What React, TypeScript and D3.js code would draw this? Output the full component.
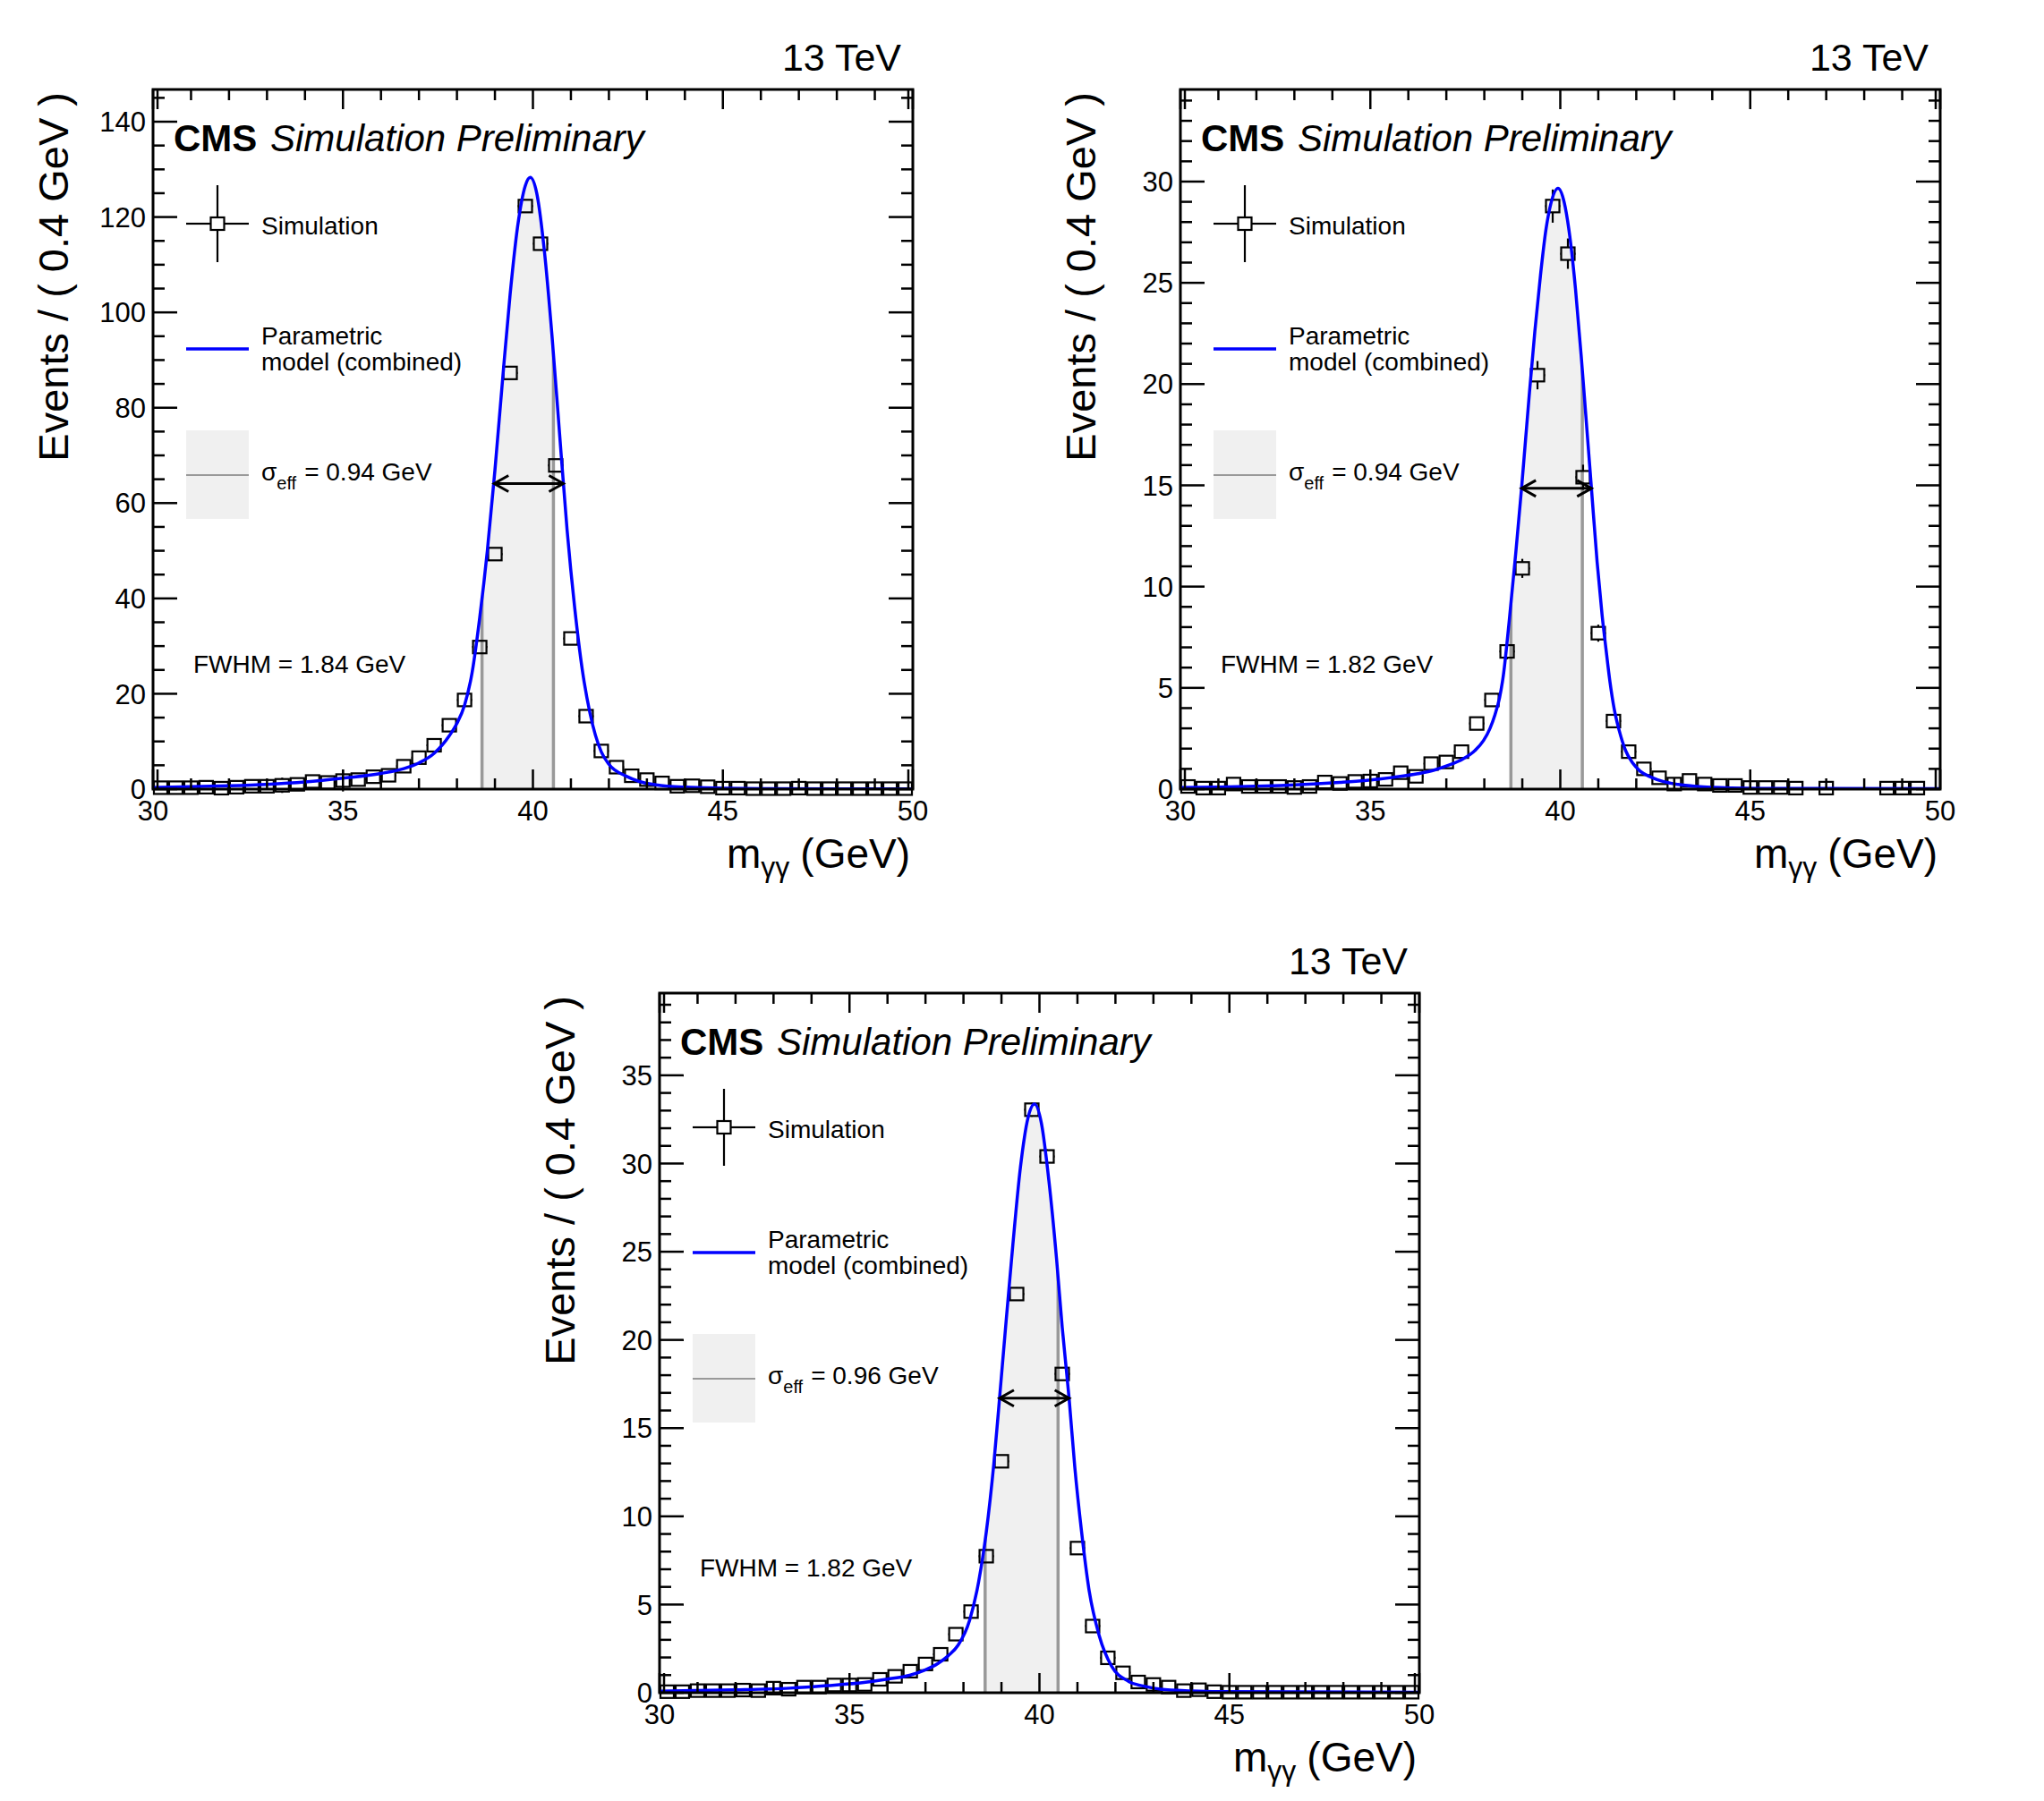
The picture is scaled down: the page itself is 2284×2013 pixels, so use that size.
import * as d3 from 'd3'
import { useEffect } from 'react'

const WIDTH = 2284
const HEIGHT = 2013
const FRAME_W = 849
const FRAME_H = 782
const FONT = '"Liberation Sans", Arial, Helvetica, sans-serif'

type Pt = [number, number]

// bin centres of the 0.4 GeV bins
const binCenters = [
  30.2, 30.6, 31.0, 31.4, 31.8, 32.2, 32.6, 33.0, 33.4, 33.8,
  34.2, 34.6, 35.0, 35.4, 35.8, 36.2, 36.6, 37.0, 37.4, 37.8,
  38.2, 38.6, 39.0, 39.4, 39.8, 40.2, 40.6, 41.0, 41.4, 41.8,
  42.2, 42.6, 43.0, 43.4, 43.8, 44.2, 44.6, 45.0, 45.4, 45.8,
  46.2, 46.6, 47.0, 47.4, 47.8, 48.2, 48.6, 49.0, 49.4, 49.8,
]
const xTickLabels = [30, 35, 40, 45, 50]

/* top left */
const tlEvents = [
  0.3, 0.3, 0.3, 0.4, 0.2, 0.4, 0.6, 0.6, 0.8, 1.0,
  1.6, 1.4, 1.8, 2.0, 2.6, 2.9, 4.8, 6.6, 9.2, 13.4,
  18.7, 29.8, 49.3, 87.3, 122.3, 114.4, 67.9, 31.6, 15.3, 8.0,
  4.6, 2.8, 2.0, 1.3, 0.6, 0.7, 0.5, 0.2, 0.2, 0.1,
  0.1, 0.1, 0.2, 0.1, 0.1, 0.1, 0.1, 0.1, 0.1, 0.1,
]
const tlErrors = [
  0.4, 0.4, 0.4, 0.5, 0.3, 0.5, 0.6, 0.6, 1.6, 0.8,
  1.0, 0.9, 2.3, 1.0, 1.1, 1.0, 1.1, 1.2, 1.2, 1.2,
  1.2, 1.2, 1.2, 1.2, 1.2, 1.2, 1.2, 1.2, 1.1, 1.0,
  0.9, 0.8, 0.7, 0.6, 0.4, 0.4, 0.4, 0.3, 0.3, 0.2,
  0.2, 0.2, 0.3, 0.2, 0.2, 0.2, 0.2, 0.2, 0.2, 0.2,
]
const tlCurve: Pt[] = [
  [30.0, 0.35], [31.0, 0.5], [32.0, 0.7], [33.0, 1.0], [34.0, 1.5], [35.0, 2.3],
  [36.0, 3.3], [36.6, 4.3], [37.0, 5.5], [37.4, 7.5], [37.8, 11.2], [38.0, 13.8],
  [38.2, 17.6], [38.4, 24.5], [38.6, 36], [38.8, 50], [39.0, 66.9], [39.2, 85.8],
  [39.4, 103.8], [39.6, 118.2], [39.8, 126.6], [39.93, 128.3], [40.1, 125], [40.3, 113],
  [40.5, 95.3], [40.7, 74.7], [40.9, 54.3], [41.1, 38], [41.3, 25], [41.5, 16],
  [41.8, 7.8], [42.0, 5.2], [42.46, 2.7], [42.8, 1.6], [43.24, 0.9], [44.0, 0.4],
  [45.0, 0.2], [46.0, 0.1], [48.0, 0.06], [50.0, 0.05],
]
const tlYTicks = [0, 20, 40, 60, 80, 100, 120, 140]
const tlSigma = [38.66, 40.54]
const tlFwhm = [38.98, 40.8, 64.1]

/* top right */
const trEvents = [
  0.13, 0.05, 0.05, 0.25, 0.13, 0.13, 0.13, 0.08, 0.13, 0.35,
  0.28, 0.38, 0.4, 0.48, 0.81, 0.63, 1.26, 1.34, 1.85, 3.24,
  4.4, 6.8, 10.9, 20.44, 28.79, 26.44, 15.4, 7.7, 3.36, 1.85,
  1.0, 0.56, 0.25, 0.43, 0.25, 0.18, 0.18, 0.08, 0.08, 0.08,
  0.05, null, 0.05, null, null, null, 0.05, 0.05, 0.05, null,
]
const trErrors = [
  0.05, 0.03, 0.03, 0.08, 0.05, 0.05, 0.05, 0.04, 0.05, 0.09,
  0.08, 0.09, 0.1, 0.11, 0.14, 0.12, 0.17, 0.18, 0.21, 0.27,
  0.31, 0.39, 0.47, 0.7, 0.82, 0.75, 0.62, 0.42, 0.27, 0.21,
  0.15, 0.11, 0.08, 0.1, 0.08, 0.06, 0.06, 0.04, 0.04, 0.04,
  0.03, null, 0.03, null, null, null, 0.03, 0.03, 0.03, null,
]
const trCurve: Pt[] = [
  [30.0, 0.08], [31.0, 0.1], [32.0, 0.14], [32.65, 0.18], [33.5, 0.25], [34.2, 0.33],
  [34.9, 0.43], [35.6, 0.58], [36.25, 0.76], [36.7, 0.95], [37.0, 1.14], [37.45, 1.5],
  [37.75, 1.9], [37.98, 2.4], [38.15, 3.0], [38.28, 3.67], [38.4, 4.5], [38.5, 5.6],
  [38.65, 8.2], [38.83, 11.7], [38.98, 14.85], [39.18, 19.4], [39.33, 22.6], [39.48, 25.4],
  [39.62, 27.6], [39.75, 28.9], [39.94, 29.67], [40.1, 29.0], [40.25, 27.3], [40.4, 24.7],
  [40.55, 21.4], [40.67, 18.5], [40.82, 14.85], [40.97, 11.2], [41.1, 8.6], [41.2, 6.96],
  [41.3, 5.4], [41.42, 3.95], [41.55, 2.9], [41.72, 1.9], [41.9, 1.3], [42.1, 0.89],
  [42.4, 0.58], [42.7, 0.38], [43.1, 0.23], [43.6, 0.13], [44.5, 0.06], [46.0, 0.03],
  [50.0, 0.02],
]
const trYTicks = [0, 5, 10, 15, 20, 25, 30]
const trSigma = [38.7, 40.58]
const trFwhm = [38.98, 40.82, 14.85]

/* bottom */
const btEvents = [
  0.06, 0.06, 0.12, 0.12, 0.12, 0.15, 0.12, 0.26, 0.2, 0.32,
  0.32, 0.44, 0.44, 0.47, 0.76, 0.93, 1.22, 1.63, 2.18, 3.32,
  4.6, 7.74, 13.12, 22.6, 33.05, 30.4, 18.07, 8.2, 3.78, 1.98,
  1.13, 0.61, 0.47, 0.32, 0.12, 0.17, 0.06, 0.03, 0.03, 0.03,
  0.03, 0.03, 0.03, 0.03, 0.03, 0.03, 0.03, 0.03, 0.03, 0.03,
]
const btErrors = [
  0.03, 0.03, 0.04, 0.04, 0.04, 0.05, 0.04, 0.06, 0.05, 0.07,
  0.07, 0.08, 0.08, 0.08, 0.1, 0.11, 0.13, 0.15, 0.17, 0.2,
  0.24, 0.3, 0.35, 0.38, 0.4, 0.4, 0.36, 0.3, 0.2, 0.15,
  0.11, 0.08, 0.07, 0.06, 0.04, 0.05, 0.03, 0.02, 0.02, 0.02,
  0.02, 0.02, 0.02, 0.02, 0.02, 0.02, 0.02, 0.02, 0.02, 0.02,
]
const btCurve: Pt[] = [
  [30.0, 0.09], [32.0, 0.16], [33.43, 0.26], [34.4, 0.4], [35.38, 0.58], [36.0, 0.77],
  [36.58, 0.99], [37.0, 1.3], [37.33, 1.66], [37.6, 2.1], [37.86, 2.7], [38.16, 4.1],
  [38.4, 6.3], [38.6, 9.1], [38.8, 13.0], [38.95, 16.7], [39.1, 20.5], [39.3, 25.4],
  [39.5, 29.8], [39.7, 32.6], [39.87, 33.37], [40.05, 32.3], [40.25, 29.0], [40.45, 24.6],
  [40.6, 20.7], [40.78, 16.7], [40.93, 12.8], [41.11, 9.1], [41.3, 5.9], [41.57, 3.26],
  [41.9, 1.5], [42.35, 0.64], [42.8, 0.35], [43.18, 0.2], [44.0, 0.1], [44.68, 0.06],
  [50.0, 0.03],
]
const btYTicks = [0, 5, 10, 15, 20, 25, 30, 35]
const btSigma = [38.57, 40.49]
const btFwhm = [38.95, 40.78, 16.7]

interface PanelProps {
  id: string
  left: number
  top: number
  events: (number | null)[]
  errors: (number | null)[]
  curve: Pt[]
  yTicks: number[]
  yMinorStep: number
  sigma: number[]
  fwhm: number[]
  sigmaLabel: string
  fwhmLabel: string
}

/* open square marker with error bars that stop at the box */
const Marker = ({ cx, cy, x0, x1, yTop, yBot }: { cx: number, cy: number, x0: number, x1: number, yTop: number, yBot: number }) => {
  const hw = 7.5, hh = 7
  return (
    <g stroke="black" strokeWidth={2.2} fill="none">
      {x0 < cx - hw && <line x1={x0} x2={cx - hw} y1={cy} y2={cy} />}
      {x1 > cx + hw && <line x1={cx + hw} x2={x1} y1={cy} y2={cy} />}
      {yTop < cy - hh && <line x1={cx} x2={cx} y1={yTop} y2={cy - hh} />}
      {yBot > cy + hh && <line x1={cx} x2={cx} y1={cy + hh} y2={yBot} />}
      <rect x={cx - hw} y={cy - hh} width={2 * hw} height={2 * hh} />
    </g>
  )
}

const Panel = ({ id, left, top, events, errors, curve, yTicks, yMinorStep, sigma, fwhm, sigmaLabel, fwhmLabel }: PanelProps) => {
  const yMax = 1.2 * (d3.max(events, d => d ?? 0) as number)
  const x = d3.scaleLinear().domain([30, 50]).range([0, FRAME_W])
  const y = d3.scaleLinear().domain([0, yMax]).range([FRAME_H, 0])

  const line = d3.line<Pt>().x(d => x(d[0])).y(d => y(d[1])).curve(d3.curveMonotoneX)
  const area = d3.area<Pt>().x(d => x(d[0])).y0(y(0)).y1(d => y(d[1])).curve(d3.curveMonotoneX)

  const xMinor = d3.range(31, 50).filter(v => v % 5 !== 0)
  const yMinor = d3.range(0, yMax, yMinorStep).filter(v => !yTicks.includes(v))

  const tickStyle = { stroke: 'black', strokeWidth: 2.5 }
  const arrowY = y(fwhm[2])
  const ax0 = x(fwhm[0]), ax1 = x(fwhm[1])

  return (
    <g transform={`translate(${left},${top})`} fontFamily={FONT}>
      <defs>
        <clipPath id={`frame-${id}`}>
          <rect x={0} y={0} width={FRAME_W} height={FRAME_H} />
        </clipPath>
        <clipPath id={`under-${id}`}>
          <path d={area(curve) as string} />
        </clipPath>
      </defs>

      {/* sigma_eff band under the curve */}
      <g clipPath={`url(#under-${id})`}>
        <rect x={x(sigma[0])} y={0} width={x(sigma[1]) - x(sigma[0])} height={FRAME_H} fill="#f0f0f0" />
        <line x1={x(sigma[0])} x2={x(sigma[0])} y1={0} y2={FRAME_H} stroke="#999" strokeWidth={3.5} />
        <line x1={x(sigma[1])} x2={x(sigma[1])} y1={0} y2={FRAME_H} stroke="#999" strokeWidth={3.5} />
      </g>

      {/* simulated events */}
      {events.map((v, i) => {
        if (v === null) return null
        const e = errors[i] ?? 0
        return (
          <Marker key={i}
            cx={x(binCenters[i])} cy={y(v)}
            x0={x(binCenters[i] - 0.2)} x1={x(binCenters[i] + 0.2)}
            yTop={y(v + e)} yBot={y(v - e)} />
        )
      })}

      {/* parametric model */}
      <path d={line(curve) as string} fill="none" stroke="#0000ff" strokeWidth={3.5}
        clipPath={`url(#frame-${id})`} />

      {/* FWHM arrow */}
      <g stroke="black" strokeWidth={3} fill="none">
        <line x1={ax0} x2={ax1} y1={arrowY} y2={arrowY} />
        <polyline points={`${ax0 + 16},${arrowY - 9} ${ax0},${arrowY} ${ax0 + 16},${arrowY + 9}`} />
        <polyline points={`${ax1 - 16},${arrowY - 9} ${ax1},${arrowY} ${ax1 - 16},${arrowY + 9}`} />
      </g>

      {/* frame and ticks */}
      <rect x={0} y={0} width={FRAME_W} height={FRAME_H} fill="none" stroke="black" strokeWidth={3} />
      {xTickLabels.map(t => (
        <g key={`xM${t}`} {...tickStyle}>
          <line x1={x(t)} x2={x(t)} y1={FRAME_H} y2={FRAME_H - 22} />
          <line x1={x(t)} x2={x(t)} y1={0} y2={22} />
        </g>
      ))}
      {xMinor.map(t => (
        <g key={`xm${t}`} {...tickStyle}>
          <line x1={x(t)} x2={x(t)} y1={FRAME_H} y2={FRAME_H - 12} />
          <line x1={x(t)} x2={x(t)} y1={0} y2={12} />
        </g>
      ))}
      <g {...tickStyle}>
        <line x1={5} x2={5} y1={0} y2={22} />
        <line x1={FRAME_W - 5} x2={FRAME_W - 5} y1={0} y2={22} />
        <line x1={5} x2={5} y1={FRAME_H} y2={FRAME_H - 22} />
        <line x1={FRAME_W - 5} x2={FRAME_W - 5} y1={FRAME_H} y2={FRAME_H - 22} />
      </g>
      {yTicks.map(t => (
        <g key={`yM${t}`} {...tickStyle}>
          <line x1={0} x2={27} y1={y(t)} y2={y(t)} />
          <line x1={FRAME_W} x2={FRAME_W - 27} y1={y(t)} y2={y(t)} />
        </g>
      ))}
      {yMinor.map(t => (
        <g key={`ym${t}`} {...tickStyle}>
          <line x1={0} x2={13} y1={y(t)} y2={y(t)} />
          <line x1={FRAME_W} x2={FRAME_W - 13} y1={y(t)} y2={y(t)} />
        </g>
      ))}

      {/* tick labels */}
      {yTicks.map(t => (
        <text key={`yl${t}`} x={-8} y={y(t)} dy="0.36em" textAnchor="end" fontSize={31}>{t}</text>
      ))}
      {xTickLabels.map(t => (
        <text key={`xl${t}`} x={x(t)} y={FRAME_H + 35} textAnchor="middle" fontSize={31}>{t}</text>
      ))}

      {/* axis titles */}
      <text x={FRAME_W - 3} y={FRAME_H + 88} textAnchor="end" fontSize={46}>
        <tspan>m</tspan>
        <tspan fontSize={32} dy={10}>γγ</tspan>
        <tspan dy={-10} dx={12}>(GeV)</tspan>
      </text>
      <text transform={`translate(-95,3) rotate(-90)`} textAnchor="end" fontSize={47}>
        Events / ( 0.4 GeV )
      </text>

      {/* labels */}
      <text x={FRAME_W - 13} y={-21} textAnchor="end" fontSize={43}>13 TeV</text>
      <text x={23} y={69} fontSize={42} fontWeight="bold">CMS</text>
      <text x={131} y={69} fontSize={42} fontStyle="italic">Simulation Preliminary</text>

      {/* legend */}
      <Marker cx={72} cy={150} x0={37} x1={107} yTop={107} yBot={193} />
      <text x={121} y={162} fontSize={28}>Simulation</text>
      <line x1={37} x2={107} y1={290} y2={290} stroke="#0000ff" strokeWidth={3.5} />
      <text x={121} y={285} fontSize={28}>Parametric</text>
      <text x={121} y={314} fontSize={28}>model (combined)</text>
      <rect x={37} y={381} width={70} height={99} fill="#f0f0f0" />
      <line x1={37} x2={107} y1={431} y2={431} stroke="#999" strokeWidth={2} />
      <text x={121} y={437} fontSize={28}>
        <tspan>σ</tspan>
        <tspan fontSize={20} dy={10}>eff</tspan>
        <tspan dy={-10} dx={9}>{sigmaLabel}</tspan>
      </text>
      <text x={45} y={652} fontSize={28}>{fwhmLabel}</text>
    </g>
  )
}

export default function App() {
  useEffect(() => {
    document.body.style.margin = '0'
    document.body.style.background = 'white'
  }, [])

  return (
    <svg width={WIDTH} height={HEIGHT} style={{ position: 'absolute', left: 0, top: 0, background: 'white' }}>
      <rect width={WIDTH} height={HEIGHT} fill="white" />
      <Panel id="tl" left={171} top={100} events={tlEvents} errors={tlErrors} curve={tlCurve}
        yTicks={tlYTicks} yMinorStep={5} sigma={tlSigma} fwhm={tlFwhm}
        sigmaLabel="= 0.94 GeV" fwhmLabel="FWHM = 1.84 GeV" />
      <Panel id="tr" left={1319} top={100} events={trEvents} errors={trErrors} curve={trCurve}
        yTicks={trYTicks} yMinorStep={1} sigma={trSigma} fwhm={trFwhm}
        sigmaLabel="= 0.94 GeV" fwhmLabel="FWHM = 1.82 GeV" />
      <Panel id="bt" left={737} top={1110} events={btEvents} errors={btErrors} curve={btCurve}
        yTicks={btYTicks} yMinorStep={1} sigma={btSigma} fwhm={btFwhm}
        sigmaLabel="= 0.96 GeV" fwhmLabel="FWHM = 1.82 GeV" />
    </svg>
  )
}
